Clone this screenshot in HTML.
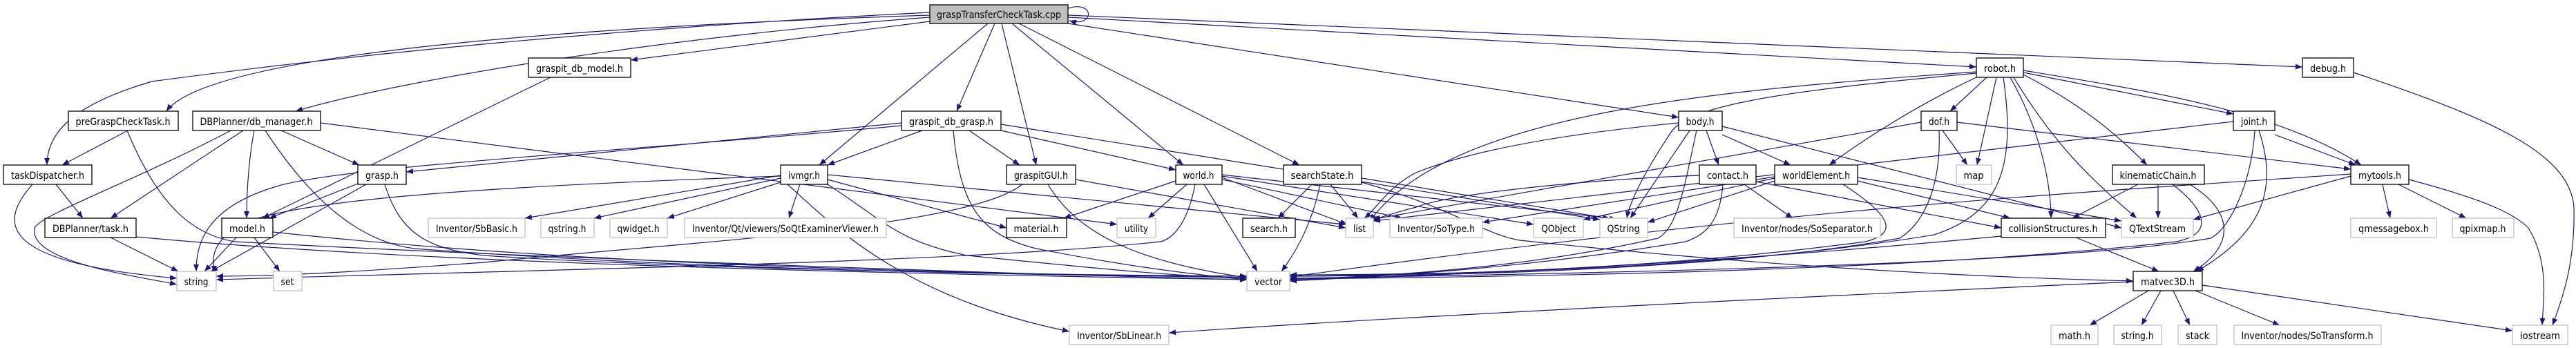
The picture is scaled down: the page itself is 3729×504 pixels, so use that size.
<!DOCTYPE html>
<html><head><meta charset="utf-8"><style>
html,body{margin:0;padding:0;background:#fff;width:3729px;height:504px;overflow:hidden}
svg text{font-family:"DejaVu Sans","Liberation Sans",sans-serif;font-size:14px;fill:#000}
.e{fill:none;stroke:#191970;stroke-width:1.2}
.n{fill:#fff;stroke:#000;stroke-width:1.3}
.g{fill:#fff;stroke:#bfbfbf;stroke-width:1.3}
</style></head><body>
<svg width="3729" height="504" viewBox="0 0 3729 504" xmlns="http://www.w3.org/2000/svg">
<defs><marker id="a" markerWidth="11" markerHeight="8" refX="10" refY="4" orient="auto" markerUnits="userSpaceOnUse"><path d="M0,0 L10,4 L0,8 z" fill="#191970"/></marker></defs>
<g class="e" marker-end="url(#a)">
<path d="M1346 22 C800 40,300 80,241 161"/>
<path d="M1346 25 C1000 50,600 110,428 161"/>
<path d="M1346 18 C900 40,500 80,220 118 C110 150,68 190,68 239"/>
<path d="M1346 31 L913 87"/>
<path d="M1430 34 L1186 239"/>
<path d="M1440 34 L1385 161"/>
<path d="M1450 34 L1500 239"/>
<path d="M1465 34 L1713 239"/>
<path d="M1475 34 L1881 239"/>
<path d="M1546 34 L2430 170"/>
<path d="M1546 25 L2861 97"/>
<path d="M1546 22 L3333 97"/>
<path d="M1546 12 C1585 0,1585 40,1548 30"/>
<path d="M185 189 L90 239"/>
<path d="M184 189 C230 300,280 340,340 350 C700 370,1400 395,1805 405"/>
<path d="M334 189 C200 260,60 310,50 330 C40 380,200 400,256 412"/>
<path d="M352 189 L160 316"/>
<path d="M368 189 C360 230,357 280,357 316"/>
<path d="M384 189 C450 290,520 350,600 360 C1000 390,1500 400,1805 400"/>
<path d="M407 189 L520 239"/>
<path d="M464 178 L1617 325"/>
<path d="M47 267 C0 320,-10 380,256 403"/>
<path d="M81 267 L120 316"/>
<path d="M160 344 L258 393"/>
<path d="M197 343 C600 380,1200 395,1805 405"/>
<path d="M342 344 L296 393"/>
<path d="M368 344 L405 393"/>
<path d="M395 336 C800 380,1300 395,1805 402"/>
<path d="M518 266 L390 316"/>
<path d="M530 267 L305 393"/>
<path d="M557 267 C580 340,620 360,700 370 C1000 390,1500 398,1805 400"/>
<path d="M797 112 L380 316"/>
<path d="M1305 178 L588 249"/>
<path d="M1305 182 C900 220,500 240,400 270 C300 300,284 350,284 393"/>
<path d="M1335 189 L1198 239"/>
<path d="M1403 189 L1476 239"/>
<path d="M1449 189 L1702 246"/>
<path d="M1380 189 C1390 300,1420 340,1500 360 C1600 380,1700 395,1805 405"/>
<path d="M1449 180 L2316 318"/>
<path d="M1130 254 L760 316"/>
<path d="M1130 258 L860 316"/>
<path d="M1130 264 L966 316"/>
<path d="M1158 267 L1142 316"/>
<path d="M1130 255 C700 270,400 290,340 330 C300 360,310 380,310 395"/>
<path d="M1198 253 L1948 325"/>
<path d="M1198 260 L1457 330"/>
<path d="M1198 267 C1280 320,1300 350,1400 370 C1600 390,1700 400,1805 403"/>
<path d="M1140 267 C1200 320,1300 430,1548 480"/>
<path d="M1480 267 C1400 330,1000 350,700 380 C500 395,400 400,313 400"/>
<path d="M1517 267 C1560 340,1650 380,1805 402"/>
<path d="M1557 260 L1948 330"/>
<path d="M1702 262 L1540 316"/>
<path d="M1718 267 L1662 316"/>
<path d="M1730 267 C1720 320,1700 345,1680 350 C1400 380,800 390,313 405"/>
<path d="M1743 267 L1820 393"/>
<path d="M1769 257 L1950 325"/>
<path d="M1769 260 L2030 316"/>
<path d="M1769 255 L2220 325"/>
<path d="M1769 253 L2330 316"/>
<path d="M1899 267 L1850 316"/>
<path d="M1911 267 C1900 320,1880 360,1855 393"/>
<path d="M1926 267 L1966 316"/>
<path d="M1971 258 L2340 318"/>
<path d="M1971 264 C2100 300,2150 340,2200 348 C2500 380,2800 400,3088 407"/>
<path d="M2430 178 C2200 200,2100 230,2050 250 C2010 270,1995 300,1975 316"/>
<path d="M2446 189 L2360 316"/>
<path d="M2456 189 C2440 260,2430 330,2400 345 C2200 390,2000 400,1867 405"/>
<path d="M2470 189 L2488 239"/>
<path d="M2493 195 L2592 239"/>
<path d="M2493 183 L3071 330"/>
<path d="M2460 254 C2300 260,2100 280,2050 300 C2010 310,2000 315,1988 318"/>
<path d="M2525 267 L2595 316"/>
<path d="M2494 267 C2490 320,2470 340,2440 350 C2200 390,2000 400,1867 407"/>
<path d="M2542 263 L2897 330"/>
<path d="M2569 262 L2385 322"/>
<path d="M2569 258 L2292 318"/>
<path d="M2569 256 L2146 322"/>
<path d="M2668 267 C2750 320,2740 340,2700 350 C2400 390,2100 398,1867 400"/>
<path d="M2689 262 L2910 316"/>
<path d="M2689 257 L3071 320"/>
<path d="M2861 112 C2780 150,2700 200,2648 239"/>
<path d="M2876 112 L2823 161"/>
<path d="M2890 112 L2862 239"/>
<path d="M2900 112 C2920 250,2890 310,2800 340 C2500 390,2100 398,1867 398"/>
<path d="M2910 112 C2960 200,2969 280,2969 316"/>
<path d="M2915 112 C2980 220,3040 270,3093 316"/>
<path d="M2929 108 C3010 150,3060 190,3108 239"/>
<path d="M2929 105 L3233 165"/>
<path d="M2929 102 C3100 130,3300 160,3418 239"/>
<path d="M2861 104 C2500 130,2100 160,1983 320"/>
<path d="M2861 106 C2600 130,2450 150,2420 190 C2380 250,2360 290,2355 316"/>
<path d="M2781 177 L1985 318"/>
<path d="M2812 189 L2848 239"/>
<path d="M2807 189 C2810 260,2790 320,2750 345 C2500 390,2100 400,1867 400"/>
<path d="M2833 177 L3403 245"/>
<path d="M3233 176 L1988 320"/>
<path d="M3264 189 C3260 260,3230 330,3200 345 C3000 380,2400 395,1867 403"/>
<path d="M3270 189 C3300 280,3270 340,3180 393"/>
<path d="M3293 195 L3410 239"/>
<path d="M3095 267 L3000 316"/>
<path d="M3124 267 L3124 316"/>
<path d="M3145 267 C3200 310,3200 340,3150 350 C2800 390,2300 400,1867 404"/>
<path d="M3170 267 C3240 310,3230 360,3175 393"/>
<path d="M3403 255 L3175 318"/>
<path d="M3403 252 C3000 280,2600 300,1867 401"/>
<path d="M3449 267 L3460 316"/>
<path d="M3472 267 L3570 316"/>
<path d="M3487 260 C3600 290,3640 310,3660 330 C3690 380,3682 430,3680 471"/>
<path d="M2897 342 C2500 380,2100 400,1867 405"/>
<path d="M3005 344 L3125 393"/>
<path d="M3088 408 C2600 430,2000 460,1692 482"/>
<path d="M3110 421 L3025 471"/>
<path d="M3128 421 L3100 471"/>
<path d="M3146 421 L3170 471"/>
<path d="M3178 421 L3300 471"/>
<path d="M3188 413 L3637 479"/>
<path d="M3407 105 C3600 170,3720 220,3726 300 C3728 380,3710 430,3695 471"/>
</g>
<g>
<rect x="1346" y="7" width="200" height="27" fill="#bfbfbf" stroke="#000" stroke-width="1.3"/><text x="1446" y="26" text-anchor="middle" textLength="180" lengthAdjust="spacingAndGlyphs">graspTransferCheckTask.cpp</text>
<rect class="n" x="765" y="84" width="148" height="28"/><text x="839" y="104" text-anchor="middle" textLength="126" lengthAdjust="spacingAndGlyphs">graspit_db_model.h</text>
<rect class="n" x="2861" y="84" width="68" height="28"/><text x="2895" y="104" text-anchor="middle" textLength="46" lengthAdjust="spacingAndGlyphs">robot.h</text>
<rect class="n" x="3333" y="84" width="74" height="28"/><text x="3370" y="104" text-anchor="middle" textLength="52" lengthAdjust="spacingAndGlyphs">debug.h</text>
<rect class="n" x="99" y="161" width="159" height="28"/><text x="178" y="181" text-anchor="middle" textLength="137" lengthAdjust="spacingAndGlyphs">preGraspCheckTask.h</text>
<rect class="n" x="279" y="161" width="185" height="28"/><text x="371" y="181" text-anchor="middle" textLength="163" lengthAdjust="spacingAndGlyphs">DBPlanner/db_manager.h</text>
<rect class="n" x="1305" y="161" width="144" height="28"/><text x="1377" y="181" text-anchor="middle" textLength="122" lengthAdjust="spacingAndGlyphs">graspit_db_grasp.h</text>
<rect class="n" x="2430" y="161" width="63" height="28"/><text x="2461" y="181" text-anchor="middle" textLength="41" lengthAdjust="spacingAndGlyphs">body.h</text>
<rect class="n" x="2781" y="161" width="52" height="28"/><text x="2807" y="181" text-anchor="middle" textLength="30" lengthAdjust="spacingAndGlyphs">dof.h</text>
<rect class="n" x="3233" y="161" width="60" height="28"/><text x="3263" y="181" text-anchor="middle" textLength="38" lengthAdjust="spacingAndGlyphs">joint.h</text>
<rect class="n" x="5" y="239" width="128" height="28"/><text x="69" y="259" text-anchor="middle" textLength="106" lengthAdjust="spacingAndGlyphs">taskDispatcher.h</text>
<rect class="n" x="518" y="239" width="70" height="28"/><text x="553" y="259" text-anchor="middle" textLength="48" lengthAdjust="spacingAndGlyphs">grasp.h</text>
<rect class="n" x="1130" y="239" width="68" height="28"/><text x="1164" y="259" text-anchor="middle" textLength="46" lengthAdjust="spacingAndGlyphs">ivmgr.h</text>
<rect class="n" x="1457" y="239" width="100" height="28"/><text x="1507" y="259" text-anchor="middle" textLength="78" lengthAdjust="spacingAndGlyphs">graspitGUI.h</text>
<rect class="n" x="1702" y="239" width="67" height="28"/><text x="1735" y="259" text-anchor="middle" textLength="45" lengthAdjust="spacingAndGlyphs">world.h</text>
<rect class="n" x="1858" y="239" width="113" height="28"/><text x="1914" y="259" text-anchor="middle" textLength="91" lengthAdjust="spacingAndGlyphs">searchState.h</text>
<rect class="n" x="2460" y="239" width="82" height="28"/><text x="2501" y="259" text-anchor="middle" textLength="60" lengthAdjust="spacingAndGlyphs">contact.h</text>
<rect class="n" x="2569" y="239" width="120" height="28"/><text x="2629" y="259" text-anchor="middle" textLength="98" lengthAdjust="spacingAndGlyphs">worldElement.h</text>
<rect class="g" x="2832" y="239" width="51" height="28"/><text x="2857" y="259" text-anchor="middle" textLength="29" lengthAdjust="spacingAndGlyphs">map</text>
<rect class="n" x="3058" y="239" width="133" height="28"/><text x="3124" y="259" text-anchor="middle" textLength="111" lengthAdjust="spacingAndGlyphs">kinematicChain.h</text>
<rect class="n" x="3403" y="239" width="84" height="28"/><text x="3445" y="259" text-anchor="middle" textLength="62" lengthAdjust="spacingAndGlyphs">mytools.h</text>
<rect class="n" x="65" y="316" width="132" height="28"/><text x="131" y="336" text-anchor="middle" textLength="110" lengthAdjust="spacingAndGlyphs">DBPlanner/task.h</text>
<rect class="n" x="321" y="316" width="74" height="28"/><text x="358" y="336" text-anchor="middle" textLength="52" lengthAdjust="spacingAndGlyphs">model.h</text>
<rect class="g" x="620" y="316" width="140" height="28"/><text x="690" y="336" text-anchor="middle" textLength="118" lengthAdjust="spacingAndGlyphs">Inventor/SbBasic.h</text>
<rect class="g" x="783" y="316" width="77" height="28"/><text x="821" y="336" text-anchor="middle" textLength="55" lengthAdjust="spacingAndGlyphs">qstring.h</text>
<rect class="g" x="883" y="316" width="83" height="28"/><text x="924" y="336" text-anchor="middle" textLength="61" lengthAdjust="spacingAndGlyphs">qwidget.h</text>
<rect class="g" x="991" y="316" width="292" height="28"/><text x="1137" y="336" text-anchor="middle" textLength="270" lengthAdjust="spacingAndGlyphs">Inventor/Qt/viewers/SoQtExaminerViewer.h</text>
<rect class="n" x="1457" y="316" width="87" height="28"/><text x="1500" y="336" text-anchor="middle" textLength="65" lengthAdjust="spacingAndGlyphs">material.h</text>
<rect class="g" x="1617" y="316" width="56" height="28"/><text x="1645" y="336" text-anchor="middle" textLength="34" lengthAdjust="spacingAndGlyphs">utility</text>
<rect class="n" x="1799" y="316" width="76" height="28"/><text x="1837" y="336" text-anchor="middle" textLength="54" lengthAdjust="spacingAndGlyphs">search.h</text>
<rect class="g" x="1948" y="316" width="40" height="28"/><text x="1968" y="336" text-anchor="middle" textLength="18" lengthAdjust="spacingAndGlyphs">list</text>
<rect class="g" x="2012" y="316" width="134" height="28"/><text x="2079" y="336" text-anchor="middle" textLength="112" lengthAdjust="spacingAndGlyphs">Inventor/SoType.h</text>
<rect class="g" x="2220" y="316" width="72" height="28"/><text x="2256" y="336" text-anchor="middle" textLength="50" lengthAdjust="spacingAndGlyphs">QObject</text>
<rect class="g" x="2316" y="316" width="69" height="28"/><text x="2350" y="336" text-anchor="middle" textLength="47" lengthAdjust="spacingAndGlyphs">QString</text>
<rect class="g" x="2510" y="316" width="212" height="28"/><text x="2616" y="336" text-anchor="middle" textLength="190" lengthAdjust="spacingAndGlyphs">Inventor/nodes/SoSeparator.h</text>
<rect class="n" x="2897" y="316" width="151" height="28"/><text x="2972" y="336" text-anchor="middle" textLength="129" lengthAdjust="spacingAndGlyphs">collisionStructures.h</text>
<rect class="g" x="3071" y="316" width="104" height="28"/><text x="3123" y="336" text-anchor="middle" textLength="82" lengthAdjust="spacingAndGlyphs">QTextStream</text>
<rect class="g" x="3403" y="316" width="124" height="28"/><text x="3465" y="336" text-anchor="middle" textLength="102" lengthAdjust="spacingAndGlyphs">qmessagebox.h</text>
<rect class="g" x="3550" y="316" width="89" height="28"/><text x="3594" y="336" text-anchor="middle" textLength="67" lengthAdjust="spacingAndGlyphs">qpixmap.h</text>
<rect class="g" x="256" y="393" width="57" height="28"/><text x="284" y="413" text-anchor="middle" textLength="35" lengthAdjust="spacingAndGlyphs">string</text>
<rect class="g" x="396" y="393" width="41" height="28"/><text x="416" y="413" text-anchor="middle" textLength="19" lengthAdjust="spacingAndGlyphs">set</text>
<rect class="g" x="1805" y="393" width="62" height="28"/><text x="1836" y="413" text-anchor="middle" textLength="40" lengthAdjust="spacingAndGlyphs">vector</text>
<rect class="n" x="3088" y="393" width="100" height="28"/><text x="3138" y="413" text-anchor="middle" textLength="78" lengthAdjust="spacingAndGlyphs">matvec3D.h</text>
<rect class="g" x="1548" y="471" width="144" height="28"/><text x="1620" y="491" text-anchor="middle" textLength="122" lengthAdjust="spacingAndGlyphs">Inventor/SbLinear.h</text>
<rect class="g" x="2969" y="471" width="68" height="28"/><text x="3003" y="491" text-anchor="middle" textLength="46" lengthAdjust="spacingAndGlyphs">math.h</text>
<rect class="g" x="3060" y="471" width="69" height="28"/><text x="3094" y="491" text-anchor="middle" textLength="47" lengthAdjust="spacingAndGlyphs">string.h</text>
<rect class="g" x="3153" y="471" width="56" height="28"/><text x="3181" y="491" text-anchor="middle" textLength="34" lengthAdjust="spacingAndGlyphs">stack</text>
<rect class="g" x="3234" y="471" width="213" height="28"/><text x="3340" y="491" text-anchor="middle" textLength="191" lengthAdjust="spacingAndGlyphs">Inventor/nodes/SoTransform.h</text>
<rect class="g" x="3637" y="471" width="80" height="28"/><text x="3677" y="491" text-anchor="middle" textLength="58" lengthAdjust="spacingAndGlyphs">iostream</text>
</g>
</svg>
</body></html>
